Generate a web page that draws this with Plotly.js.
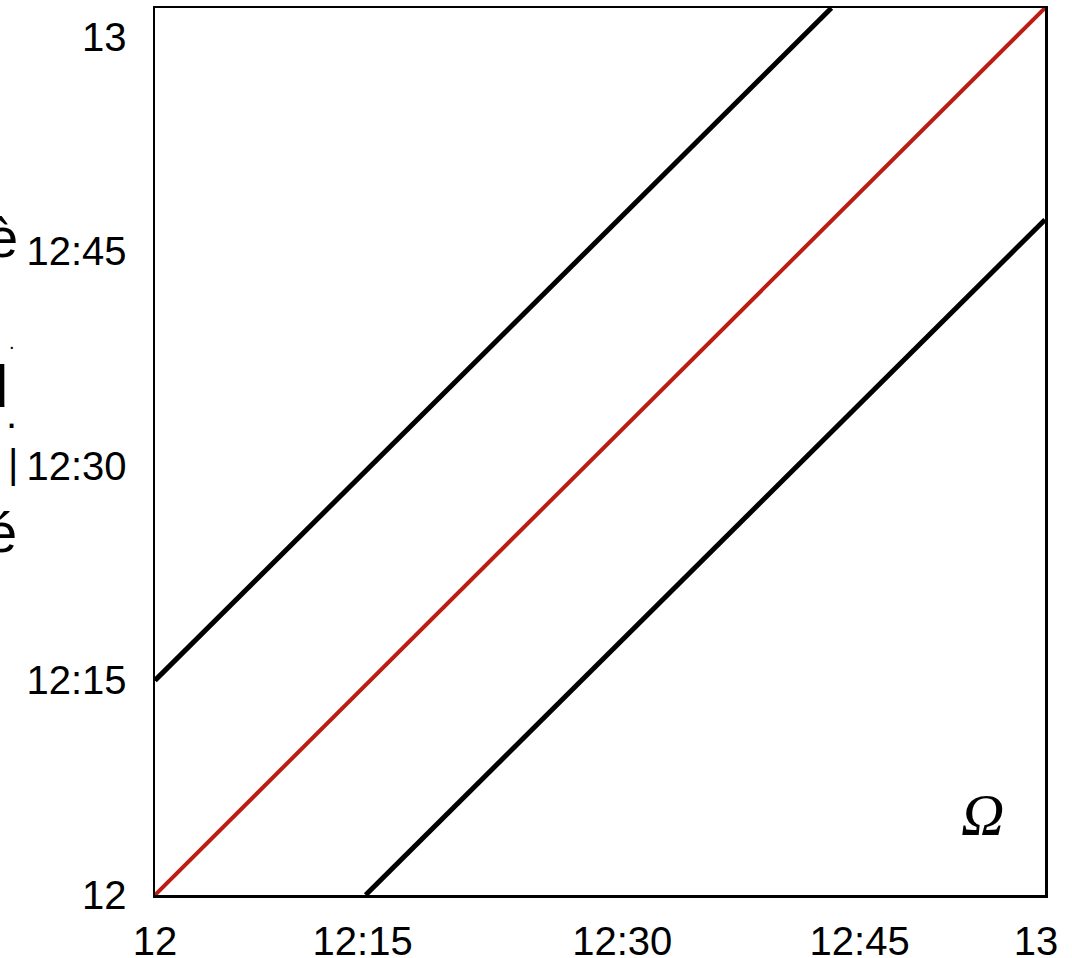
<!DOCTYPE html>
<html>
<head>
<meta charset="utf-8">
<script src="https://cdn.plot.ly/plotly-3.0.1.min.js"></script>
<style>html,body{margin:0;padding:0;background:#fff;}#chart{width:1072px;height:958px;}</style>
</head>
<body>
<div id="chart"></div>
<script>
// minutes after 12:00
var diagX = [0, 60];
var diagY = [0, 62];
var upperX = [0, 45.6];
var upperY = [15, 62];
var lowerX = [14.2, 60];
var lowerY = [0, 47.2];

var xTickVals = [0, 14, 31.5, 47.5, 59.4];
var xTickText = ['12', '12:15', '12:30', '12:45', '13'];
var yTickVals = [0, 15, 30, 45, 60];
var yTickText = ['12', '12:15', '12:30', '12:45', '13'];

var sideGlyphs = ['è', 'd', '.', '|', 'é', '.'];
var sideGlyphY = [237, 386, 414, 464, 532, 342];
var sideGlyphX = [2, -9, 11, 13, 1, 12];
var sideGlyphSize = [56, 60, 40, 40, 56, 20];

var traces = [
  {x: upperX, y: upperY, mode: 'lines', line: {color: '#000000', width: 5}, hoverinfo: 'skip', showlegend: false},
  {x: lowerX, y: lowerY, mode: 'lines', line: {color: '#000000', width: 5}, hoverinfo: 'skip', showlegend: false},
  {x: diagX, y: diagY, mode: 'lines', line: {color: '#bb1d12', width: 4}, hoverinfo: 'skip', showlegend: false}
];

var H = 958, T = 8, B = 63, L = 155;
var annotations = [{
  xref: 'paper', yref: 'paper', x: 0.93, y: 0.09, xanchor: 'center', yanchor: 'middle',
  text: '<i>Ω</i>', showarrow: false,
  font: {family: 'Liberation Serif, DejaVu Serif, serif', size: 60, color: '#000'}
}];
sideGlyphs.forEach(function (g, i) {
  var ph = H - T - B;
  annotations.push({
    xref: 'paper', yref: 'paper', x: 0, y: (H - B - sideGlyphY[i]) / ph,
    xanchor: 'center', yanchor: 'middle', xshift: sideGlyphX[i] - L,
    text: g, showarrow: false,
    font: {family: 'Liberation Sans, Arial, sans-serif', size: sideGlyphSize[i], color: '#000'}
  });
});

var axisCommon = {
  showline: true, mirror: true, linecolor: '#000', linewidth: 2.5,
  showgrid: false, zeroline: false, ticks: 'outside', tickcolor: 'rgba(0,0,0,0)',
  tickfont: {family: 'Liberation Sans, Arial, sans-serif', size: 40, color: '#000'},
  tickmode: 'array', fixedrange: true
};

var layout = {
  width: 1072, height: 958,
  margin: {l: L, r: 27, t: T, b: B, pad: 0},
  paper_bgcolor: '#fff', plot_bgcolor: '#fff',
  xaxis: Object.assign({}, axisCommon, {range: [0, 60], tickvals: xTickVals, ticktext: xTickText, ticklen: 9}),
  yaxis: Object.assign({}, axisCommon, {range: [0, 62], tickvals: yTickVals, ticktext: yTickText, ticklen: 18}),
  annotations: annotations
};

Plotly.newPlot('chart', traces, layout, {displayModeBar: false, staticPlot: true});
</script>
</body>
</html>
